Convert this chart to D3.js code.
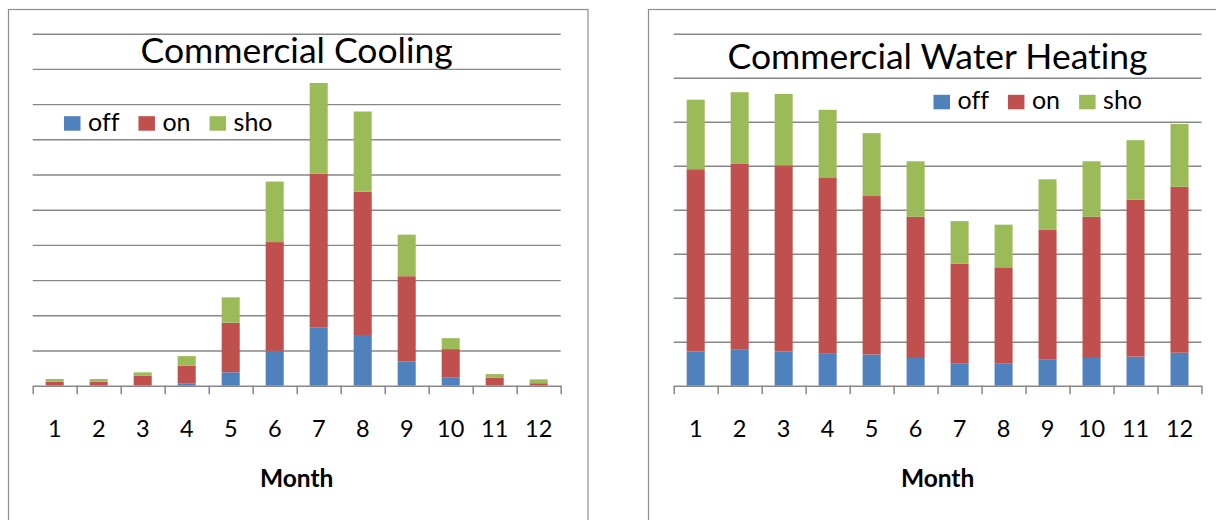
<!DOCTYPE html>
<html>
<head>
<meta charset="utf-8">
<script src="https://cdn.jsdelivr.net/npm/d3@7"></script>
<style>
  html, body { margin: 0; padding: 0; background: #fff; }
  svg { display: block; }
  text { font-family: Lato, "Open Sans", sans-serif; fill: #000;
         font-variant-ligatures: none; font-feature-settings: "liga" 0, "dlig" 0; }
</style>
</head>
<body>
<svg id="chart" width="1216" height="520"></svg>
<script>
// Monthly categories
const months = ["1", "2", "3", "4", "5", "6", "7", "8", "9", "10", "11", "12"];
const seriesNames = ["off", "on", "sho"];
const seriesColors = ["#4F81BD", "#C0504D", "#9BBB59"];

// Commercial cooling by period
const coolingOff = [0.01, 0.01, 0.01, 0.07, 0.38, 0.99, 1.66, 1.44, 0.69, 0.24, 0.01, 0.01];
const coolingOn  = [0.10, 0.10, 0.27, 0.50, 1.41, 3.09, 4.36, 4.07, 2.42, 0.80, 0.22, 0.06];
const coolingSho = [0.08, 0.08, 0.10, 0.27, 0.72, 1.72, 2.58, 2.28, 1.18, 0.31, 0.10, 0.11];

// Commercial water heating by period
const heatingOff = [0.78, 0.83, 0.78, 0.74, 0.71, 0.63, 0.50, 0.50, 0.59, 0.63, 0.66, 0.75];
const heatingOn  = [4.14, 4.21, 4.23, 3.98, 3.60, 3.21, 2.27, 2.19, 2.95, 3.21, 3.57, 3.77];
const heatingSho = [1.58, 1.63, 1.62, 1.55, 1.43, 1.26, 0.97, 0.97, 1.15, 1.26, 1.35, 1.43];

// Value-axis extents (gridline count) for each chart
const coolingMax = 10;
const heatingMax = 8;

const panels = [
  {
    title: "Commercial Cooling",
    series: [coolingOff, coolingOn, coolingSho],
    yMax: coolingMax,
    frame: { x: 8, y: 9, w: 579.5 },
    plot: { left: 32.7, right: 560.7, top: 33.7, bottom: 385.7 },
    titleY: 62.5,
    legend: { x: 64, baseline: 130.7 }
  },
  {
    title: "Commercial Water Heating",
    series: [heatingOff, heatingOn, heatingSho],
    yMax: heatingMax,
    frame: { x: 648, y: 9, w: 600 },
    plot: { left: 673.7, right: 1201.5, top: 33.7, bottom: 385.7 },
    titleY: 69,
    legend: { x: 933.5, baseline: 109.3 }
  }
];

const svg = d3.select("#chart");
const gridColor = "#878787";

panels.forEach(p => {
  const g = svg.append("g");

  // panel frame (open at the bottom edge of the page)
  g.append("rect")
    .attr("x", p.frame.x + 0.5).attr("y", p.frame.y + 0.5)
    .attr("width", p.frame.w).attr("height", 540)
    .attr("fill", "none").attr("stroke", "#8e8e8e").attr("stroke-width", 1.2);

  const x = d3.scaleBand().domain(months)
    .range([p.plot.left, p.plot.right])
    .paddingInner(0.59).paddingOuter(0.295);
  const y = d3.scaleLinear().domain([0, p.yMax])
    .range([p.plot.bottom, p.plot.top]);

  // horizontal gridlines
  g.append("g")
    .attr("transform", `translate(${p.plot.left},0)`)
    .call(d3.axisLeft(y).ticks(p.yMax).tickSize(-(p.plot.right - p.plot.left)).tickFormat(""))
    .call(a => a.select(".domain").remove())
    .call(a => a.selectAll(".tick line").attr("stroke", gridColor).attr("stroke-width", 1.4))
    .call(a => a.selectAll(".tick").filter(d => d === 0).remove());

  // stacked bars
  const rows = months.map((m, i) => ({ month: m, off: p.series[0][i], on: p.series[1][i], sho: p.series[2][i] }));
  const stacked = d3.stack().keys(seriesNames)(rows);
  g.append("g").selectAll("g")
    .data(stacked)
    .join("g")
      .attr("fill", (d, i) => seriesColors[i])
    .selectAll("rect")
    .data(d => d)
    .join("rect")
      .attr("x", d => x(d.data.month))
      .attr("width", x.bandwidth())
      .attr("y", d => y(d[1]))
      .attr("height", d => y(d[0]) - y(d[1]));

  // category axis: boundary ticks
  const edge = d3.scaleLinear().domain([0, months.length]).range([p.plot.left, p.plot.right]);
  g.append("g")
    .attr("transform", `translate(0,${p.plot.bottom})`)
    .call(d3.axisBottom(edge).tickValues(d3.range(months.length + 1)).tickSize(8.5).tickSizeOuter(0).tickFormat(""))
    .call(a => a.select(".domain").attr("stroke", gridColor).attr("stroke-width", 1.5))
    .call(a => a.selectAll(".tick line").attr("stroke", gridColor).attr("stroke-width", 1.5));

  // category labels
  g.append("g")
    .attr("transform", `translate(0,${p.plot.bottom})`)
    .call(d3.axisBottom(x).tickSize(0).tickPadding(0))
    .call(a => a.select(".domain").remove())
    .call(a => a.selectAll(".tick text")
      .attr("y", 51).attr("dy", null)
      .style("font-family", "Lato, sans-serif")
      .style("font-size", "23.5px").attr("fill", "#000"));

  // axis title
  g.append("text")
    .attr("x", (p.plot.left + p.plot.right) / 2).attr("y", 486.7)
    .attr("text-anchor", "middle")
    .style("font-size", "24.5px").style("font-weight", "bold")
    .text("Month");

  // chart title
  g.append("text")
    .attr("x", (p.plot.left + p.plot.right) / 2).attr("y", p.titleY)
    .attr("text-anchor", "middle")
    .style("font-size", "35.5px")
    .text(p.title);

  // legend
  const lg = g.append("g").attr("transform", `translate(${p.legend.x},${p.legend.baseline})`);
  let cx = 0;
  seriesNames.forEach((name, i) => {
    lg.append("rect").attr("x", cx).attr("y", -14.5).attr("width", 16.5).attr("height", 14.5)
      .attr("fill", seriesColors[i]);
    const t = lg.append("text").attr("x", cx + 24).attr("y", 0)
      .style("font-size", "25px").text(name);
    cx += 24 + t.node().getComputedTextLength() + 19;
  });
});
</script>
</body>
</html>
